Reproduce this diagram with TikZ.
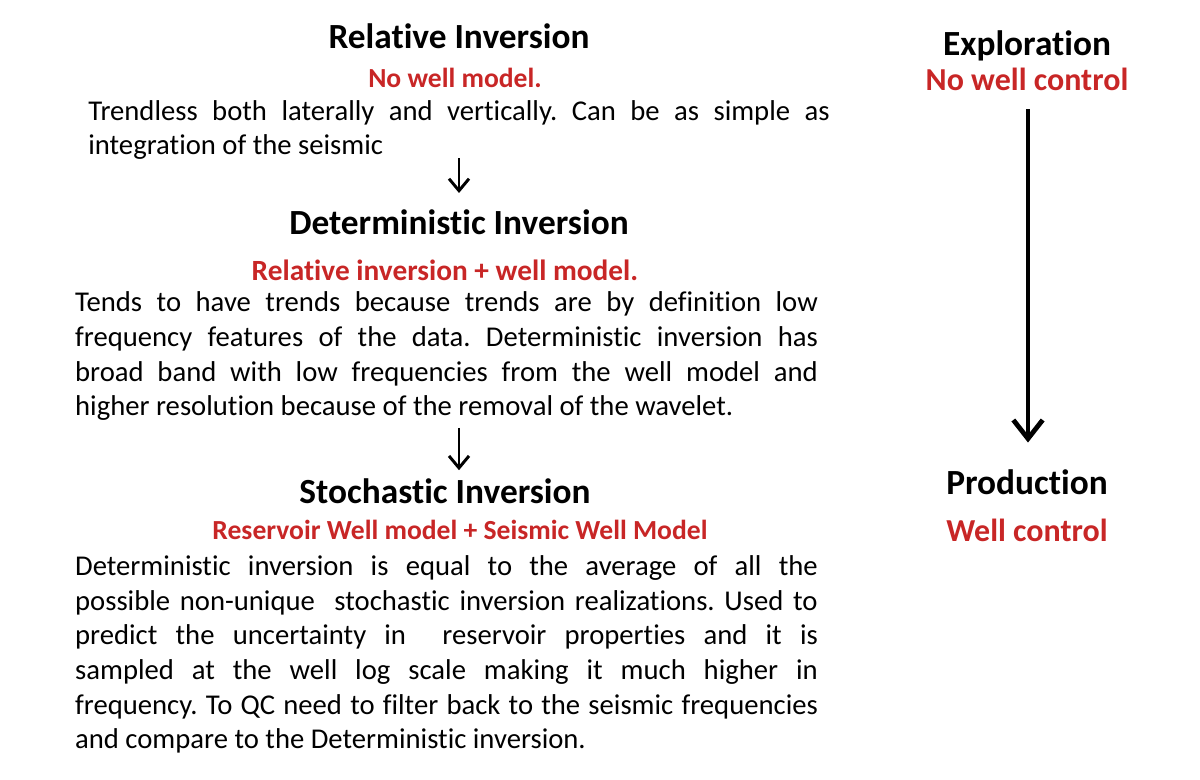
\documentclass[tikz,border=0pt]{standalone}
\usepackage{fontspec}
\setmainfont{Carlito}[Ligatures=NoCommon]
\usepackage{tikz}
\usetikzlibrary{arrows.meta,positioning}

\definecolor{wellred}{RGB}{200,38,38}
\frenchspacing

\tikzset{
  title/.style={inner sep=0pt, font=\fontsize{26.5}{30}\selectfont\bfseries},
  sidetitle/.style={inner sep=0pt, font=\fontsize{26.5}{30}\selectfont\bfseries},
  sub/.style={inner sep=0pt, text=wellred, font=\fontsize{20.7}{24}\selectfont\bfseries},
  sidesub/.style={inner sep=0pt, text=wellred, font=\fontsize{24}{28}\selectfont\bfseries},
  body/.style={inner sep=0pt, text width=557pt, align=justify, font=\fontsize{21.5}{26}\selectfont},
  flow/.style={-{Straight Barb[length=9pt,width=15pt]}, line width=2.2pt},
  bigflow/.style={-{Straight Barb[length=14pt,width=22pt]}, line width=3.6pt}
}

\begin{document}
\begin{tikzpicture}[x=0.75pt,y=-0.75pt]
   \useasboundingbox (0,0) rectangle (1200,780);

   % left column
   \node[title] (reltitle) at (459,36) {Relative Inversion};
   \node[sub]   (relsub)   at (455,78) {No well model.};
   \node[body, text width=556pt] (relpara) at (459,130)
     {Trendless both laterally and vertically. Can be as simple as\linebreak
      integration of the seismic};

   \node[title] (dettitle) at (459,222) {Deterministic Inversion};
   \node[sub, font=\fontsize{22}{26}\selectfont\bfseries] (detsub) at (445,270)
     {Relative inversion + well model.};
   \node[body] (detpara) at (446.5,356.5)
     {Tends to have trends because trends are by definition low\linebreak
      frequency features of the data. Deterministic inversion has\linebreak
      broad band with low frequencies from the well model and\linebreak
      higher resolution because of the removal of the wavelet.};

   \node[title] (stotitle) at (445,491) {Stochastic Inversion};
   \node[sub]   (stosub)   at (460,530) {Reservoir Well model + Seismic Well Model};
   \node[body] (stopara) at (446.5,654.5)
     {Deterministic inversion is equal to the average of all the\linebreak
      possible non-unique~ stochastic inversion realizations. Used to\linebreak
      predict the uncertainty in~ reservoir properties and it is\linebreak
      sampled at the well log scale making it much higher in\linebreak
      frequency. To QC need to filter back to the seismic frequencies\linebreak
      and compare to the Deterministic inversion.};

   % right column
   \node[sidetitle] (explore)  at (1027,46)  {Exploration};
   \node[sidesub]   (explsub)  at (1027,79)  {No well control};
   \node[sidetitle] (produce)  at (1027,482) {Production};
   \node[sidesub]   (prodsub)  at (1027,530) {Well control};

   \draw[flow] (relpara.south) ++(0,-2) -- (dettitle.north |- 0,193);
   \draw[flow, shorten <=5pt, shorten >=6pt] (detpara.south -| dettitle) -- (stotitle.north -| dettitle);
   \draw[bigflow, shorten <=14pt, shorten >=20pt] (explsub.south -| 1028,0) -- (produce.north -| 1028,0);
\end{tikzpicture}
\end{document}
